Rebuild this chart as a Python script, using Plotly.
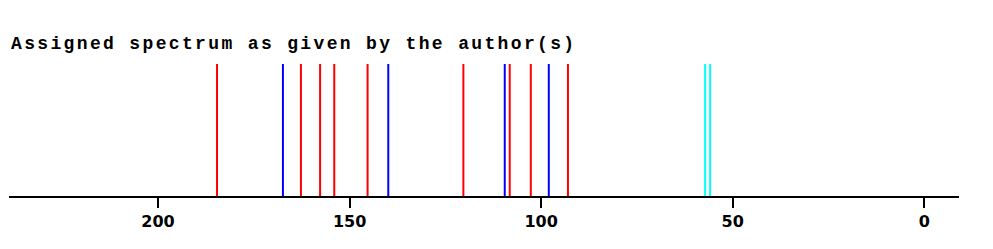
import plotly.graph_objects as go

red_shifts = [184.6, 162.7, 157.7, 154.0, 145.3, 120.3, 108.2, 102.7, 93.0]
blue_shifts = [167.4, 139.9, 109.5, 98.0]
cyan_shifts = [57.2, 55.9]
tick_vals = [200, 150, 100, 50, 0]
tick_text = ["200", "150", "100", "50", "0"]
title_text = "Assigned spectrum as given by the author(s)"

def stick(vals):
    xs, ys = [], []
    for v in vals:
        xs += [v, v, None]
        ys += [0, 1, None]
    return xs, ys

fig = go.Figure()
for vals, col in [(red_shifts, "#ff0000"), (blue_shifts, "#0000ff"), (cyan_shifts, "#00ffff")]:
    xs, ys = stick(vals)
    fig.add_trace(go.Scatter(x=xs, y=ys, mode="lines", line=dict(color=col, width=2),
                             hoverinfo="skip", showlegend=False))

fig.update_layout(
    width=993, height=249,
    margin=dict(l=9, r=34, t=64, b=53),
    plot_bgcolor="white", paper_bgcolor="white",
    xaxis=dict(range=[238.9, -9.07], showgrid=False, zeroline=False,
               showline=True, linecolor="black", linewidth=2,
               ticks="outside", ticklen=10, tickwidth=2, tickcolor="black",
               tickvals=tick_vals, ticktext=tick_text,
               tickfont=dict(family="DejaVu Sans", size=16, color="black", weight="bold")),
    yaxis=dict(range=[0, 1], visible=False, showgrid=False, zeroline=False),
    annotations=[dict(text=title_text, x=0, xref="paper", xanchor="left", align="left",
                      y=1.15, yref="paper", yanchor="middle", showarrow=False,
                      font=dict(family="Courier New, Liberation Mono, monospace", size=18,
                                color="black", weight="bold"))],
)

post = """
var t = document.querySelectorAll('.annotation-text');
t.forEach(function(e){ e.style.letterSpacing = '2.35px'; e.setAttribute('text-anchor','start'); });
"""
fig.write_html("out.html", post_script=post)
